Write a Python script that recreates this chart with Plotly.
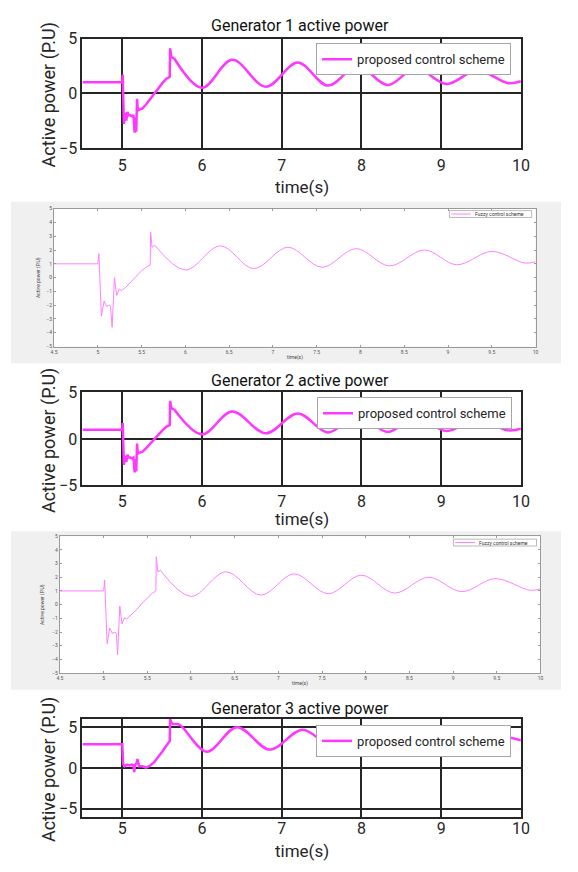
import plotly.graph_objects as go

# page is 578x872; the browser's default 8px body margin surrounds the figure
PAGE_W, PAGE_H, PAD = 578, 872, 8
W, H = PAGE_W - 2 * PAD, PAGE_H - 2 * PAD

# ---------------- data ----------------
# Generator 1 - proposed control scheme
g1_t_tr = [4.5, 5.0, 5.005, 5.02, 5.035, 5.05, 5.065, 5.08, 5.1, 5.12, 5.14, 5.155, 5.165, 5.175,
           5.185, 5.195, 5.21, 5.25, 5.3, 5.35, 5.4, 5.45, 5.5, 5.55, 5.595, 5.6, 5.615, 5.65]
g1_p_tr = [1.0, 1.0, 1.7, -2.8, -1.8, -2.5, -1.7, -2.0, -2.0, -2.1, -2.0, -3.6, -2.2, -3.5,
           -0.5, -1.6, -1.5, -1.4, -1.0, -0.5, 0.0, 0.5, 0.9, 1.3, 1.5, 4.1, 3.3, 3.2]
g1_t_osc = [5.65, 6.0, 6.38, 6.8, 7.2, 7.58, 7.95, 8.33, 8.68, 9.07, 9.45, 9.84, 10.0]
g1_p_osc = [3.2, 0.5, 3.05, 0.6, 2.8, 0.7, 2.5, 0.75, 2.3, 0.85, 2.1, 0.92, 1.1]

# Generator 1 - fuzzy control scheme
f1_t_tr = [4.5, 5.0, 5.012, 5.04, 5.072, 5.1, 5.13, 5.145, 5.163, 5.19, 5.215, 5.245, 5.27,
           5.32, 5.38, 5.44, 5.5, 5.56, 5.598, 5.603, 5.62, 5.65]
f1_p_tr = [1.0, 1.0, 1.75, -2.8, -1.7, -2.1, -2.0, -2.1, -3.6, 0.0, -1.3, -0.85, -0.95,
           -0.7, -0.3, 0.1, 0.5, 0.8, 0.9, 3.3, 2.2, 2.35]
f1_t_osc = [5.65, 6.0, 6.4, 6.78, 7.17, 7.56, 7.95, 8.33, 8.73, 9.1, 9.5, 9.88, 10.0]
f1_p_osc = [2.35, 0.55, 2.3, 0.65, 2.2, 0.75, 2.1, 0.85, 2.0, 0.93, 1.9, 1.05, 1.15]

# Generator 2 - proposed control scheme
g2_t_tr = [4.5, 5.0, 5.005, 5.02, 5.035, 5.05, 5.065, 5.08, 5.1, 5.12, 5.14, 5.155, 5.165, 5.175,
           5.185, 5.195, 5.21, 5.25, 5.3, 5.35, 5.4, 5.45, 5.5, 5.55, 5.595, 5.6, 5.615, 5.65]
g2_p_tr = [1.0, 1.0, 1.7, -2.8, -1.8, -2.5, -1.7, -2.0, -2.0, -2.1, -2.0, -3.6, -2.2, -3.5,
           -0.5, -1.6, -1.5, -1.4, -1.0, -0.5, 0.0, 0.5, 0.9, 1.3, 1.5, 4.1, 3.3, 3.2]
g2_t_osc = [5.65, 6.0, 6.38, 6.8, 7.2, 7.58, 7.95, 8.33, 8.68, 9.07, 9.45, 9.84, 10.0]
g2_p_osc = [3.2, 0.5, 2.95, 0.6, 2.75, 0.7, 2.5, 0.75, 2.3, 0.85, 2.1, 0.92, 1.1]

# Generator 2 - fuzzy control scheme
f2_t_tr = [4.5, 5.0, 5.012, 5.04, 5.07, 5.1, 5.13, 5.145, 5.16, 5.185, 5.21, 5.24, 5.265,
           5.32, 5.38, 5.44, 5.5, 5.56, 5.598, 5.603, 5.62, 5.65]
f2_p_tr = [1.0, 1.0, 1.8, -2.85, -1.7, -2.1, -2.0, -2.1, -3.65, -0.1, -1.4, -0.95, -1.05,
           -0.75, -0.35, 0.1, 0.5, 0.85, 1.0, 3.5, 2.4, 2.5]
f2_t_osc = [5.65, 6.0, 6.4, 6.8, 7.18, 7.57, 7.95, 8.33, 8.72, 9.1, 9.48, 9.88, 10.0]
f2_p_osc = [2.5, 0.6, 2.4, 0.7, 2.25, 0.8, 2.15, 0.85, 2.0, 0.95, 1.9, 1.05, 1.15]

# Generator 3 - proposed control scheme
g3_t_tr = [4.5, 5.0, 5.01, 5.03, 5.06, 5.09, 5.12, 5.14, 5.15, 5.16, 5.18, 5.19, 5.21, 5.25,
           5.3, 5.35, 5.4, 5.45, 5.5, 5.55, 5.595, 5.6, 5.62, 5.65]
g3_p_tr = [2.9, 2.9, 0.5, 0.2, 0.4, 0.3, 0.4, 0.3, -0.5, 0.4, 0.6, 1.1, 0.2, 0.2,
           0.05, 0.3, 0.7, 1.3, 2.0, 2.7, 3.3, 6.0, 5.5, 5.35]
g3_t_osc = [5.65, 5.72, 6.06, 6.44, 6.85, 7.26, 7.64, 8.05, 8.43, 8.83, 9.22, 9.62, 10.0]
g3_p_osc = [5.35, 5.3, 2.0, 5.0, 2.25, 4.7, 2.65, 4.4, 2.95, 4.2, 3.2, 4.0, 3.4]

titles = ["Generator 1 active power", "Generator 2 active power", "Generator 3 active power"]
x_label = "time(s)"
y_label = "Active power (P.U)"
name_prop = "proposed control scheme"
name_fuzzy = "Fuzzy control scheme"

prop_xticks = [5, 6, 7, 8, 9, 10]
fuzzy_xticks = [4.5, 5, 5.5, 6, 6.5, 7, 7.5, 8, 8.5, 9, 9.5, 10]
fuzzy_yticks = [-5, -4, -3, -2, -1, 0, 1, 2, 3, 4, 5]

# ---------------- styling / layout ----------------
MAG = "#ff38ff"
PINK = "#ff80ff"
DARK = "#262626"
FONT = "Roboto"


def fx(px):
    """page pixel x -> paper fraction"""
    return min(max((px - PAD) / W, 0), 1)


def fy(py):
    """page pixel y -> paper fraction"""
    return min(max(1 - (py - PAD) / H, 0), 1)


fig = go.Figure()

# panel pixel boxes on the page: (left, right, top, bottom)
boxes = {
    1: (81, 529, 30, 142),
    2: (52, 544, 204, 345),
    3: (81, 529, 392, 487),
    4: (58, 549, 539, 679),
    5: (81, 529, 726, 826),
}

prop_panels = [(1, g1_t_tr, g1_p_tr, g1_t_osc, g1_p_osc, "legend"),
               (3, g2_t_tr, g2_p_tr, g2_t_osc, g2_p_osc, "legend2"),
               (5, g3_t_tr, g3_p_tr, g3_t_osc, g3_p_osc, "legend3")]
fuzzy_panels = [(2, f1_t_tr, f1_p_tr, f1_t_osc, f1_p_osc),
                (4, f2_t_tr, f2_p_tr, f2_t_osc, f2_p_osc)]


def ax(i):
    return ("x" if i == 1 else f"x{i}"), ("y" if i == 1 else f"y{i}")


for i, ttr, ptr, tos, pos, lg in prop_panels:
    xa, ya = ax(i)
    fig.add_trace(go.Scatter(x=ttr, y=ptr, xaxis=xa, yaxis=ya, mode="lines",
                             line=dict(color=MAG, width=2.5), name=name_prop,
                             legend=lg, showlegend=True))
    fig.add_trace(go.Scatter(x=tos, y=pos, xaxis=xa, yaxis=ya, mode="lines",
                             line=dict(color=MAG, width=2.5, shape="spline", smoothing=1.0),
                             name=name_prop, legend=lg, showlegend=False))

for i, ttr, ptr, tos, pos in fuzzy_panels:
    xa, ya = ax(i)
    fig.add_trace(go.Scatter(x=ttr, y=ptr, xaxis=xa, yaxis=ya, mode="lines",
                             line=dict(color=PINK, width=1), name=name_fuzzy, showlegend=False))
    fig.add_trace(go.Scatter(x=tos, y=pos, xaxis=xa, yaxis=ya, mode="lines",
                             line=dict(color=PINK, width=1, shape="spline", smoothing=1.0),
                             name=name_fuzzy, showlegend=False))

layout = dict(width=W, height=H, margin=dict(l=0, r=0, t=0, b=0), autosize=False,
              paper_bgcolor="white", plot_bgcolor="white",
              font=dict(family=FONT, color=DARK))

standoffs = {1: 2, 3: 0, 5: -4}
for i in (1, 3, 5):
    l, r, t, b = boxes[i]
    xk = "xaxis" if i == 1 else f"xaxis{i}"
    yk = "yaxis" if i == 1 else f"yaxis{i}"
    xa, ya = ax(i)
    layout[xk] = dict(domain=[fx(l), fx(r)], anchor=ya, range=[4.5, 10], tickvals=prop_xticks,
                      showgrid=True, gridcolor=DARK, gridwidth=2, zeroline=False,
                      showline=True, linecolor=DARK, linewidth=2, mirror=True, ticks="",
                      ticklabelstandoff=standoffs[i],
                      tickfont=dict(size=16, color=DARK, family=FONT))
    yr = [-6, 6] if i == 5 else [-5, 5]
    layout[yk] = dict(domain=[fy(b), fy(t)], anchor=xa, range=yr, tickvals=[-5, 0, 5],
                      showgrid=True, gridcolor=DARK, gridwidth=2, zeroline=False,
                      showline=True, linecolor=DARK, linewidth=2, mirror=True, ticks="",
                      tickfont=dict(size=16, color=DARK, family=FONT))

for i in (2, 4):
    l, r, t, b = boxes[i]
    xk, yk = f"xaxis{i}", f"yaxis{i}"
    xa, ya = ax(i)
    layout[xk] = dict(domain=[fx(l), fx(r)], anchor=ya, range=[4.5, 10], tickvals=fuzzy_xticks,
                      showgrid=False, zeroline=False, showline=True, linecolor="#9a9a9a",
                      linewidth=1, mirror="ticks", ticks="inside", ticklen=2,
                      tickcolor="#9a9a9a", tickfont=dict(size=5, color="#555555", family=FONT))
    layout[yk] = dict(domain=[fy(b), fy(t)], anchor=xa, range=[-5, 5], tickvals=fuzzy_yticks,
                      showgrid=False, zeroline=False, showline=True, linecolor="#9a9a9a",
                      linewidth=1, mirror="ticks", ticks="inside", ticklen=2,
                      tickcolor="#9a9a9a", tickfont=dict(size=5, color="#555555", family=FONT))

# legends for proposed panels
leg_common = dict(xanchor="right", yanchor="top", bgcolor="white", bordercolor="#a6a6a6",
                  borderwidth=1, font=dict(size=13, color=DARK, family=FONT))
layout["legend"] = dict(x=fx(519), y=fy(35), **leg_common)
layout["legend2"] = dict(x=fx(520), y=fy(397), **leg_common)
layout["legend3"] = dict(x=fx(519), y=fy(732), **leg_common)

shapes = []
# gray figure backgrounds for the fuzzy panels, with white axes areas
for (gx0, gy0, gx1, gy1), i in (((6, 197, 578, 362), 2), ((6, 534, 578, 696), 4)):
    shapes.append(dict(type="rect", xref="paper", yref="paper", x0=fx(gx0), x1=fx(gx1),
                       y0=fy(gy1), y1=fy(gy0), fillcolor="#f0f0f0", line=dict(width=0),
                       layer="below"))
    l, r, t, b = boxes[i]
    shapes.append(dict(type="rect", xref="paper", yref="paper", x0=fx(l), x1=fx(r),
                       y0=fy(b), y1=fy(t), fillcolor="white", line=dict(width=0),
                       layer="below"))

annotations = []
# fuzzy mini legends
for (lx0, ly0, lx1, ly1) in ((456, 206, 540, 213), (460, 542, 545, 549)):
    shapes.append(dict(type="rect", xref="paper", yref="paper", x0=fx(lx0), x1=fx(lx1),
                       y0=fy(ly1), y1=fy(ly0), fillcolor="white",
                       line=dict(color="#8a8a8a", width=0.6), layer="above"))
    ym = (ly0 + ly1) / 2
    shapes.append(dict(type="line", xref="paper", yref="paper", x0=fx(lx0 + 2), x1=fx(lx0 + 22),
                       y0=fy(ym), y1=fy(ym), line=dict(color=PINK, width=1), layer="above"))
    annotations.append(dict(text=name_fuzzy, xref="paper", yref="paper", x=fx(lx0 + 24), y=fy(ym),
                            xanchor="left", yanchor="middle", showarrow=False,
                            font=dict(size=5, color="#333333", family=FONT)))

# titles / axis labels of proposed panels
for i, title in zip((1, 3, 5), titles):
    l, r, t, b = boxes[i]
    cx = (l + r) / 2
    ty = {1: 17, 3: 380, 5: 715}[i]
    xly = {1: 182, 3: 521, 5: 861}[i]
    annotations.append(dict(text=title, xref="paper", yref="paper", x=fx(cx - 2), y=fy(ty),
                            xanchor="center", yanchor="middle", showarrow=False,
                            font=dict(size=16, color="#111111", family=FONT)))
    annotations.append(dict(text=x_label, xref="paper", yref="paper", x=fx(cx), y=fy(xly),
                            xanchor="center", yanchor="middle", showarrow=False,
                            font=dict(size=17, color=DARK, family=FONT)))
    annotations.append(dict(text=y_label, xref="paper", yref="paper", x=fx(47), y=fy((t + b) / 2 + 2),
                            xanchor="center", yanchor="middle", showarrow=False, textangle=-90,
                            font=dict(size=18, color=DARK, family=FONT)))

# axis labels of fuzzy panels
for i, ylx, xly in ((2, 36, 356), (4, 40, 690)):
    l, r, t, b = boxes[i]
    annotations.append(dict(text=x_label, xref="paper", yref="paper", x=fx((l + r) / 2), y=fy(xly),
                            xanchor="center", yanchor="middle", showarrow=False,
                            font=dict(size=5, color="#444444", family=FONT)))
    annotations.append(dict(text=y_label, xref="paper", yref="paper", x=fx(ylx), y=fy((t + b) / 2),
                            xanchor="center", yanchor="middle", showarrow=False, textangle=-90,
                            font=dict(size=5, color="#444444", family=FONT)))

layout["shapes"] = shapes
layout["annotations"] = annotations
fig.update_layout(**layout)

fig.write_html("out.html", config={"displayModeBar": False})
